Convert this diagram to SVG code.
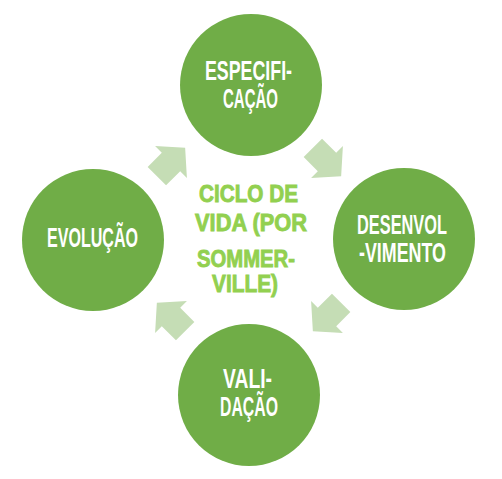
<svg xmlns="http://www.w3.org/2000/svg" width="502" height="479" viewBox="0 0 502 479">
<style>
.node circle{fill:#70AD47}
.lbl{font-family:"Liberation Sans",Arial,sans-serif;font-weight:bold;font-size:28px;fill:#FFFFFF}
.ctr{font-family:"Liberation Sans",Arial,sans-serif;font-weight:bold;font-size:24px;fill:#92D050;stroke:#92D050;stroke-width:0.9}
.arr{fill:#C5DDB5}
</style>
<defs>
<polygon id="blk" points="-20,-13 0,-13 0,-22.5 20,0 0,22.5 0,13 -20,13"/>
</defs>
<rect width="502" height="479" fill="#FFFFFF"/>
<g id="connectors">
<use href="#blk" class="arr" transform="translate(171,162) rotate(-45)"/>
<use href="#blk" class="arr" transform="translate(327,162) rotate(45)"/>
<use href="#blk" class="arr" transform="translate(327,317) rotate(135)"/>
<use href="#blk" class="arr" transform="translate(171,317) rotate(-135)"/>
</g>
<g id="especificacao" class="node">
<circle cx="251" cy="85" r="71"/>
<text class="lbl" x="205" y="80" textLength="87" lengthAdjust="spacingAndGlyphs">ESPECIFI-</text>
<text class="lbl" x="223" y="108" textLength="55" lengthAdjust="spacingAndGlyphs">CAÇÃO</text>
</g>
<g id="desenvolvimento" class="node">
<circle cx="404" cy="239" r="71"/>
<text class="lbl" x="357" y="234" textLength="90" lengthAdjust="spacingAndGlyphs">DESENVOL</text>
<text class="lbl" x="359" y="262" textLength="87" lengthAdjust="spacingAndGlyphs">-VIMENTO</text>
</g>
<g id="validacao" class="node">
<circle cx="249" cy="395" r="71"/>
<text class="lbl" x="223" y="388" textLength="49" lengthAdjust="spacingAndGlyphs">VALI-</text>
<text class="lbl" x="220" y="416" textLength="58" lengthAdjust="spacingAndGlyphs">DAÇÃO</text>
</g>
<g id="evolucao" class="node">
<circle cx="93" cy="240" r="71"/>
<text class="lbl" x="47" y="247" textLength="91" lengthAdjust="spacingAndGlyphs">EVOLUÇÃO</text>
</g>
<g id="centro">
<text class="ctr" x="199" y="202" textLength="99" lengthAdjust="spacingAndGlyphs">CICLO DE</text>
<text class="ctr" x="195" y="231" textLength="112" lengthAdjust="spacingAndGlyphs">VIDA (POR</text>
<text class="ctr" x="197" y="267" textLength="98" lengthAdjust="spacingAndGlyphs">SOMMER-</text>
<text class="ctr" x="212" y="292" textLength="66" lengthAdjust="spacingAndGlyphs">VILLE)</text>
</g>
</svg>
